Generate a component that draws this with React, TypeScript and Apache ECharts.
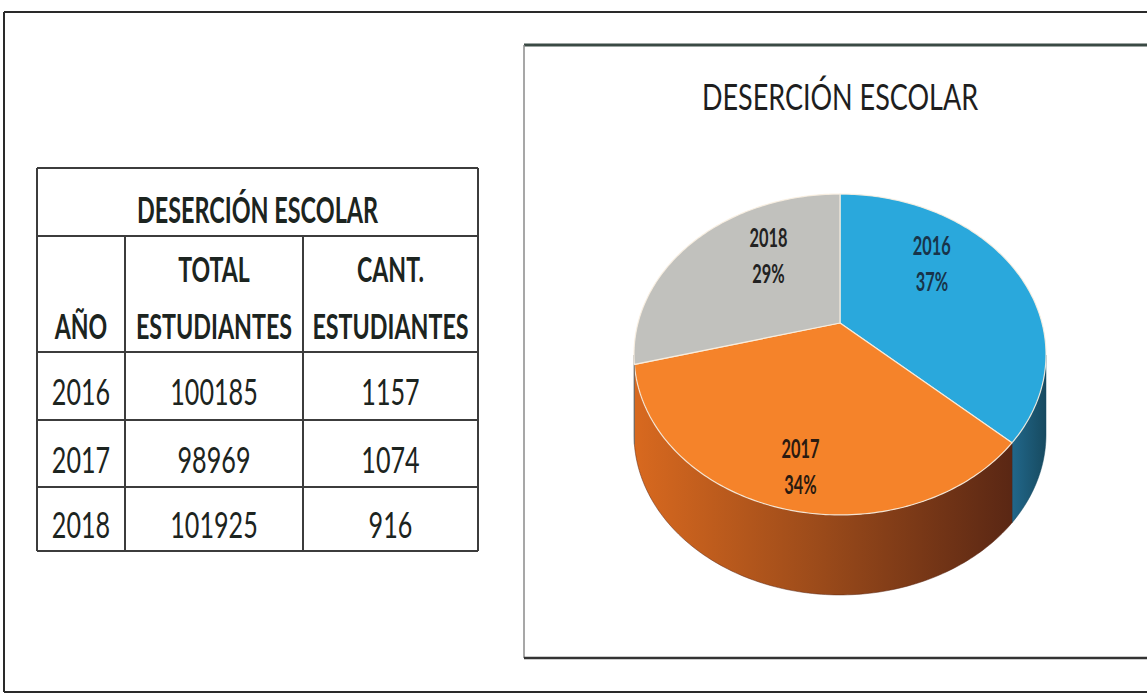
import React, { useEffect, useRef } from 'react';
import * as echarts from 'echarts';

// ---------- data ----------
const years = ['2016', '2017', '2018'];
const totalStudents = [100185, 98969, 101925];
const dropouts = [1157, 1074, 916];
const tableTitle = 'DESERCIÓN ESCOLAR';
const headerYear = 'AÑO';
const headerTotal = ['TOTAL', 'ESTUDIANTES'];
const headerCount = ['CANT.', 'ESTUDIANTES'];
const chartTitle = 'DESERCIÓN ESCOLAR';

// ---------- styles ----------
const FONT = 'Lato, "Open Sans", sans-serif';
const INK = '#1c2420';
const sliceColors = ['#2aa8dc', '#f5832a', '#c1c1bd'];
const sideColors = [
  ['#21678a', '#174a60'],
  ['#d8691f', '#9a4a1a', '#5a2714'],
  ['#8a8a88', '#6a6a68'],
];
const labelColors = ['#18344a', '#2a1a10', '#222222'];
const labelNudge = [
  [-14, -24],
  [-7, 42],
  [18, -15],
];

// pie geometry (perspective projection of a tilted disc)
const PIE = { cx: 840, cy: 323, rx: 202, dist: 3.29, tilt: 49.8, depth: 80, labelR: 0.6 };
const TA = (PIE.tilt * Math.PI) / 180;
function proj(thetaDeg: number, r: number): number[] {
  const t = (thetaDeg * Math.PI) / 180;
  const X = r * Math.sin(t);
  const Z = r * Math.cos(t);
  const f = PIE.rx * PIE.dist;
  const dep = PIE.dist + Z * Math.cos(TA);
  return [PIE.cx + (f * X) / dep, PIE.cy - (f * Z * Math.sin(TA)) / dep];
}
// silhouette angles (extreme left / right of the rim)
let thR = 90, thL = 270;
{
  let mx = -1e9, mn = 1e9;
  for (let a = 0; a <= 360; a += 0.5) {
    const p = proj(a, 1);
    if (a <= 180 && p[0] > mx) { mx = p[0]; thR = a; }
    if (a >= 180 && p[0] < mn) { mn = p[0]; thL = a; }
  }
}

// table geometry
const TB = { left: 37, right: 478, top: 168, cols: [37, 125, 303, 478], rows: [168, 236, 352, 420, 487, 551] };

function txt(text: string, x: number, y: number, size: number, weight: string, sx: number, fill = INK) {
  return {
    type: 'text',
    x,
    y,
    scaleX: sx,
    style: {
      text,
      x: 0,
      y: 0,
      fill,
      fontFamily: FONT,
      fontSize: size,
      fontWeight: weight,
      textAlign: 'center',
      textVerticalAlign: 'middle',
      align: 'center',
      verticalAlign: 'middle',
    },
  };
}
function ln(x1: number, y1: number, x2: number, y2: number, w: number, c: string) {
  return { type: 'line', shape: { x1, y1, x2, y2 }, style: { stroke: c, lineWidth: w } };
}

export default function App() {
  const ref = useRef<HTMLDivElement>(null);
  useEffect(() => {
    document.body.style.margin = '0';
    const chart = echarts.init(ref.current!, null, { renderer: 'svg' });
    const total = dropouts.reduce((a, b) => a + b, 0);

    const graphics: any[] = [];
    // outer frame
    graphics.push(ln(4, 12, 1147, 12, 2, '#2a2a2a'));
    graphics.push(ln(4, 12, 4, 692, 2, '#2a2a2a'));
    graphics.push(ln(4, 692, 1147, 692, 2, '#2a2a2a'));
    // chart box
    graphics.push(ln(524, 45, 1147, 45, 3, '#3a4a44'));
    graphics.push(ln(524, 45, 524, 658, 1.5, '#8a8a8a'));
    graphics.push(ln(524, 658, 1147, 658, 2.5, '#333'));

    // table lines
    const lc = '#3c3c3c';
    TB.rows.forEach((y) => graphics.push(ln(TB.left, y, TB.right, y, 2, lc)));
    graphics.push(ln(TB.left, TB.rows[0], TB.left, TB.rows[5], 2, lc));
    graphics.push(ln(TB.right, TB.rows[0], TB.right, TB.rows[5], 2, lc));
    graphics.push(ln(TB.cols[1], TB.rows[1], TB.cols[1], TB.rows[5], 2, lc));
    graphics.push(ln(TB.cols[2], TB.rows[1], TB.cols[2], TB.rows[5], 2, lc));

    const colC = [0, 1, 2].map((i) => (TB.cols[i] + TB.cols[i + 1]) / 2);
    // table title
    graphics.push(txt(tableTitle, (TB.left + TB.right) / 2, 209, 36, 'bold', 0.65));
    // headers
    graphics.push(txt(headerYear, colC[0], 325, 35, 'bold', 0.66));
    graphics.push(txt(headerTotal[0], colC[1], 268, 35, 'bold', 0.66));
    graphics.push(txt(headerTotal[1], colC[1], 325, 35, 'bold', 0.665));
    graphics.push(txt(headerCount[0], colC[2], 268, 35, 'bold', 0.66));
    graphics.push(txt(headerCount[1], colC[2], 325, 35, 'bold', 0.665));
    // rows
    years.forEach((yr, i) => {
      const y0 = TB.rows[i + 2];
      const y1 = TB.rows[i + 3];
      const yc = y0 + (y1 - y0) * 0.58;
      graphics.push(txt(yr, colC[0], yc, 37, 'normal', 0.68));
      graphics.push(txt(String(totalStudents[i]), colC[1], yc, 37, 'normal', 0.68));
      graphics.push(txt(String(dropouts[i]), colC[2], yc, 37, 'normal', 0.68));
    });
    // chart title
    graphics.push(txt(chartTitle, 840, 96, 36, 'normal', 0.75, '#1e1e1e'));

    const option: any = {
      animation: false,
      backgroundColor: '#ffffff',
      graphic: { elements: graphics },
      series: [
        {
          type: 'custom',
          coordinateSystem: 'none',
          data: dropouts,
          renderItem: (params: any, api: any) => {
            const i = params.dataIndex;
            let start = 0;
            for (let j = 0; j < i; j++) start += (dropouts[j] / total) * 360;
            const end = start + (api.value(0) / total) * 360;
            const children: any[] = [];
            // side wall
            const s0 = Math.max(start, thR);
            const s1 = Math.min(end, thL);
            if (s1 > s0) {
              const topPts: number[][] = [];
              const n = Math.max(2, Math.ceil(s1 - s0));
              for (let k = 0; k <= n; k++) topPts.push(proj(s0 + ((s1 - s0) * k) / n, 1));
              const botPts = topPts.map((p) => [p[0], p[1] + PIE.depth]).reverse();
              const sc = sideColors[i];
              const stops = sc.map((c, k) => ({ offset: k / (sc.length - 1), color: c }));
              children.push({
                type: 'polygon',
                shape: { points: topPts.concat(botPts) },
                style: { fill: new echarts.graphic.LinearGradient(0, 0, 1, 0, stops), stroke: sc[sc.length - 1], lineWidth: 0.5 },
              });
            }
            // top face
            const pts: number[][] = [proj(0, 0)];
            const n = Math.ceil(end - start);
            for (let k = 0; k <= n; k++) pts.push(proj(start + ((end - start) * k) / n, 1));
            children.push({
              type: 'polygon',
              shape: { points: pts },
              style: { fill: sliceColors[i], stroke: 'rgba(250,240,225,0.9)', lineWidth: 1.2 },
            });
            // label
            const mid = (start + end) / 2;
            const lp = proj(mid, PIE.labelR);
            const pct = Math.round((api.value(0) / total) * 100);
            children.push({
              type: 'text',
              x: lp[0] + labelNudge[i][0],
              y: lp[1] + labelNudge[i][1],
              scaleX: 0.63,
              style: {
                text: years[i] + '\n' + pct + '%',
                x: 0,
                y: 0,
                fill: labelColors[i],
                fontFamily: FONT,
                fontSize: 26,
                fontWeight: 'bold',
                lineHeight: 36,
                textAlign: 'center',
                textVerticalAlign: 'middle',
                align: 'center',
                verticalAlign: 'middle',
              },
            });
            return { type: 'group', children };
          },
        },
      ],
    };
    chart.setOption(option);
    return () => chart.dispose();
  }, []);
  return <div ref={ref} style={{ width: 1147, height: 695 }} />;
}
